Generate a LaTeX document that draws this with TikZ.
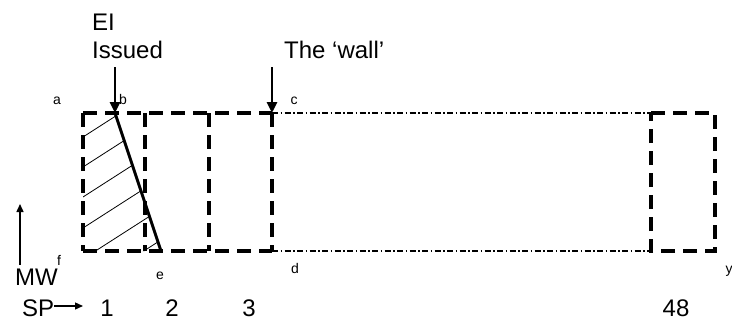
\documentclass[tikz,border=0pt]{standalone}
\usepackage{fontspec}
\setmainfont{Liberation Sans}
\usetikzlibrary{arrows.meta}
\begin{document}
\begin{tikzpicture}[x=1pt,y=-1pt,
  bigtext/.style={font=\fontsize{24}{28}\selectfont, inner sep=0pt, anchor=base west},
  bignum/.style={font=\fontsize{24}{28}\selectfont, inner sep=0pt, anchor=base},
  smalllbl/.style={font=\fontsize{14}{16}\selectfont, inner sep=0pt, anchor=base},
  spbox/.style={line width=3.8pt, dash pattern=on 14pt off 8pt},
  dashdotline/.style={line width=1.2pt, dash pattern=on 6pt off 2.5pt on 1.5pt off 2.5pt},
  hatch/.style={line width=0.8pt},
  bigarrow/.style={line width=2.8pt, -{Triangle[length=11pt,width=10pt]}},
  axarrow/.style={line width=1.4pt, -{Triangle[length=8pt,width=7pt]}},
  cut/.style={line width=3pt}
]
\useasboundingbox (0,0) rectangle (732,322);

% corner coordinates
\coordinate (tl1) at (83,113);
\coordinate (bl1) at (83,251);
\coordinate (tr1) at (145,113);
\coordinate (br1) at (145,251);
\coordinate (tr2) at (209,113);
\coordinate (br2) at (209,251);
\coordinate (tr3) at (272,113);
\coordinate (br3) at (272,251);
\coordinate (tl48) at (651,113);
\coordinate (bl48) at (651,251);
\coordinate (tr48) at (715,113);
\coordinate (br48) at (715,251);
\coordinate (bpt) at (115,113);
\coordinate (ept) at (161,251);

% hatching
\begin{scope}
  \clip (tl1) -- (bpt) -- (ept) -- (bl1) -- cycle;
  \foreach \y in {137,167,197,228,259,290} {
    \draw[hatch] (83,\y) -- ++(120,-77);
  }
\end{scope}

% boxes
\draw[spbox] (tl1) -- (tr1) -- (tr2) -- (tr3);
\draw[spbox] (bl1) -- (br1) -- (br2) -- (br3);
\draw[spbox] (tl1) -- (bl1);
\draw[spbox] (tr1) -- (br1);
\draw[spbox] (tr2) -- (br2);
\draw[spbox] (tr3) -- (br3);
\draw[spbox] (tl48) -- (tr48) -- (br48) -- (bl48) -- cycle;

% dash-dot continuation
\draw[dashdotline] (tr3) -- (tl48);
\draw[dashdotline] (br3) -- (bl48);

% cut line
\draw[cut] (bpt) -- (ept);

% texts
\node[bigtext] (ei) at (92,30) {EI};
\node[bigtext] (issued) at (92,58) {Issued};
\node[bigtext] (wall) at (284,58) {The ‘wall’};

\coordinate (eistart) at (115,67);
\coordinate (wallstart) at (272,67);
\draw[bigarrow] (eistart) -- (bpt);
\draw[bigarrow] (wallstart) -- (tr3);

% small labels
\node[smalllbl] (la) at (57,104) {a};
\node[smalllbl] (lb) at (123,104) {b};
\node[smalllbl] (lc) at (294,104) {c};
\node[smalllbl] (ld) at (295,273) {d};
\node[smalllbl] (le) at (160,279) {e};
\node[smalllbl] (lf) at (59,265) {f};
\node[smalllbl] (ly) at (729,273) {y};

% MW axis
\node[bigtext] (mw) at (15,285) {MW};
\coordinate (mwbot) at (20,265);
\coordinate (mwtop) at (20,204);
\draw[axarrow] (mwbot) -- (mwtop);

% SP axis
\node[bigtext] (sp) at (22,316) {SP};
\coordinate (spend) at (83,306);
\draw[axarrow] (sp.east |- spend) -- (spend);

\node[bignum] (n1) at (107,316) {1};
\node[bignum] (n2) at (172,316) {2};
\node[bignum] (n3) at (249,316) {3};
\node[bignum] (n48) at (676,316) {48};
\end{tikzpicture}
\end{document}
